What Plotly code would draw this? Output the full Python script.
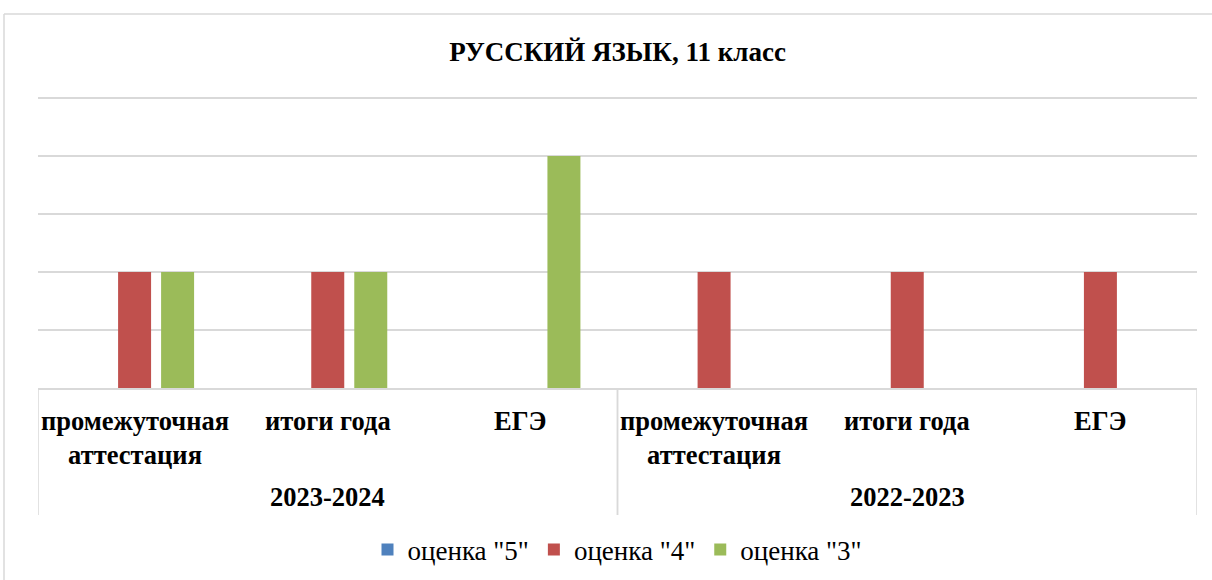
import plotly.graph_objects as go

years = ["2023-2024", "2022-2023"]
categories = ["промежуточная<br>аттестация", "итоги года", "ЕГЭ",
              "промежуточная<br>аттестация", "итоги года", "ЕГЭ"]
year_of_cat = [0, 0, 0, 1, 1, 1]
grade5 = [0, 0, 0, 0, 0, 0]
grade4 = [2, 2, 0, 2, 2, 2]
grade3 = [2, 2, 4, 0, 0, 0]
series_names = ['оценка "5"', 'оценка "4"', 'оценка "3"']
colors = ["#4F81BD", "#C0504D", "#9BBB59"]
title_text = "РУССКИЙ ЯЗЫК, 11 класс"

FONT = "'Liberation Serif', Tinos, 'Times New Roman', 'DejaVu Serif', 'Noto Serif', serif"
GRID = "#D9D9D9"

W, H = 1212, 580
Y_TOP = 5.05
L, R, B = 38, 15, 192
T = round(H - B - 58 * Y_TOP)
plot_h = H - T - B
pos = list(range(len(categories)))

fig = go.Figure()
for name, vals, col in zip(series_names, [grade5, grade4, grade3], colors):
    fig.add_trace(go.Bar(x=pos, y=vals, name=name, hoverinfo="y+name",
                         marker=dict(color=col, line=dict(width=0))))

fig.update_layout(
    width=W, height=H,
    margin=dict(l=L, r=R, t=T, b=B, autoexpand=False),
    paper_bgcolor="white", plot_bgcolor="white",
    barmode="group", bargap=0.332, bargroupgap=0.233,
    font=dict(family=FONT, color="black"),
    title=dict(text="<b>" + title_text + "</b>", x=0.5, xref="paper",
               y=1 - 52 / H, yanchor="middle",
               font=dict(family=FONT, size=27, color="black")),
    showlegend=True,
    legend=dict(orientation="h", x=0.5, xanchor="center",
                y=-(550 - (H - B)) / plot_h, yanchor="middle",
                font=dict(family=FONT, size=27, color="black"),
                traceorder="normal"),
    xaxis=dict(range=[-0.5, len(categories) - 0.5], showline=True, linecolor=GRID,
               linewidth=1.5, showgrid=False, ticks="", showticklabels=False,
               zeroline=False, automargin=False, fixedrange=True),
    yaxis=dict(range=[0, Y_TOP], dtick=1, showgrid=True, gridcolor=GRID, gridwidth=1.5,
               showticklabels=False, zeroline=False, showline=False, automargin=False),
)

def py(px):
    return (H - B - px) / plot_h

# category labels
for i, c in zip(pos, categories):
    fig.add_annotation(x=i, xref="x", y=py(404), yref="paper", yanchor="top",
                       text="<b>" + c + "</b>", showarrow=False, align="center",
                       font=dict(family=FONT, size=26.5, color="black"))

# group labels and dividers
for g, yr in enumerate(years):
    idx = [i for i, k in zip(pos, year_of_cat) if k == g]
    fig.add_annotation(x=sum(idx) / len(idx), xref="x", y=py(497), yref="paper",
                       yanchor="middle", text="<b>" + yr + "</b>", showarrow=False,
                       font=dict(family=FONT, size=26.5, color="black"))
    for edge in (min(idx) - 0.5, max(idx) + 0.5):
        fig.add_shape(type="line", xref="x", yref="paper", x0=edge, x1=edge,
                      y0=0, y1=py(515), line=dict(color=GRID, width=1.5))

# outer chart border
fig.add_shape(type="line", xref="paper", yref="paper",
              x0=(4 - L) / (W - L - R), x1=1.2, y0=py(14), y1=py(14),
              line=dict(color=GRID, width=1.5))
fig.add_shape(type="line", xref="paper", yref="paper",
              x0=(4 - L) / (W - L - R), x1=(4 - L) / (W - L - R), y0=py(14), y1=py(700),
              line=dict(color=GRID, width=1.5))

fig.write_html("out.html", config={"displayModeBar": False},
               post_script="document.body.style.margin='0';document.body.style.padding='0';")
